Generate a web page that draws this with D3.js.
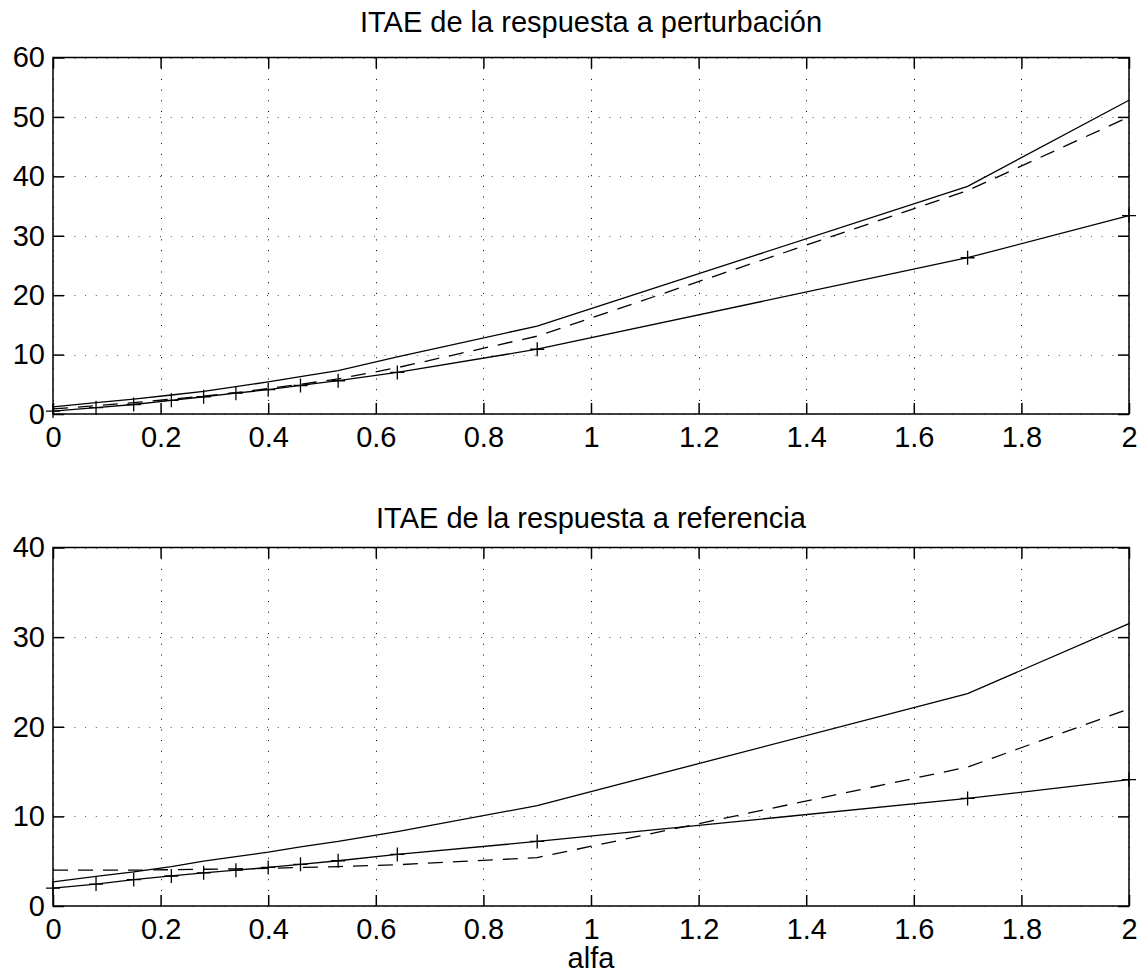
<!DOCTYPE html>
<html>
<head>
<meta charset="utf-8">
<script src="https://cdn.jsdelivr.net/npm/d3@7"></script>
<style>
  html, body { margin: 0; padding: 0; background: #fff; }
  svg { display: block; }
  text { font-family: "Liberation Sans", Arial, Helvetica, sans-serif; fill: #000; }
</style>
</head>
<body>
<svg id="chart" width="1145" height="976"></svg>
<script>
// ---- data ----
const alfa = [0, 0.08, 0.15, 0.22, 0.28, 0.34, 0.40, 0.46, 0.53, 0.64, 0.90, 1.70, 2.00];

const perturbSolid  = [1.2, 1.9, 2.5, 3.2, 3.8, 4.6, 5.4, 6.3, 7.3, 9.6, 14.8, 38.3, 52.8];
const perturbDashed = [0.85, 1.4, 1.9, 2.5, 3.0, 3.6, 4.3, 5.0, 5.9, 7.8, 13.1, 37.6, 50.0];
const perturbPlus   = [0.5, 1.06, 1.6, 2.3, 2.9, 3.5, 4.1, 4.8, 5.6, 7.0, 10.9, 26.3, 33.4];

const referenciaSolid  = [2.7, 3.3, 3.8, 4.4, 5.0, 5.5, 6.0, 6.6, 7.2, 8.3, 11.2, 23.7, 31.5];
const referenciaDashed = [4.0, 4.0, 4.0, 4.05, 4.1, 4.15, 4.2, 4.3, 4.4, 4.6, 5.4, 15.5, 22.0];
const referenciaPlus   = [2.0, 2.45, 2.95, 3.35, 3.7, 4.0, 4.3, 4.65, 5.05, 5.75, 7.2, 12.0, 14.1];

const xTicks = [0, 0.2, 0.4, 0.6, 0.8, 1, 1.2, 1.4, 1.6, 1.8, 2];
const yTicksTop = [0, 10, 20, 30, 40, 50, 60];
const yTicksBottom = [0, 10, 20, 30, 40];

const titleTop = "ITAE de la respuesta a perturbación";
const titleBottom = "ITAE de la respuesta a referencia";
const xLabel = "alfa";

// ---- layout ----
const svg = d3.select("#chart");
const left = 53, right = 1129;
const fontSize = 29;
const tickLen = 11;

const x = d3.scaleLinear().domain([0, 2]).range([left, right]);

function panel(top, bottom, yMax, yTicks, title, titleY, series) {
  const y = d3.scaleLinear().domain([0, yMax]).range([bottom, top]);
  const g = svg.append("g");

  // grid
  const grid = g.append("g").attr("stroke", "#000").attr("stroke-width", 1)
    .attr("stroke-dasharray", "1,9.7").attr("fill", "none");
  xTicks.forEach(t => {
    grid.append("line").attr("x1", Math.round(x(t)) + 0.5).attr("x2", Math.round(x(t)) + 0.5)
      .attr("y1", top).attr("y2", bottom);
  });
  yTicks.forEach(t => {
    grid.append("line").attr("y1", Math.round(y(t)) + 0.5).attr("y2", Math.round(y(t)) + 0.5)
      .attr("x1", left).attr("x2", right).attr("stroke", "#555");
  });

  // axes via d3 (inward ticks)
  const xAxisB = d3.axisBottom(x).tickValues(xTicks).tickSizeInner(-tickLen).tickSizeOuter(0)
    .tickPadding(12).tickFormat(d => d3.format("~g")(d));
  const xAxisT = d3.axisTop(x).tickValues(xTicks).tickSizeInner(-tickLen).tickSizeOuter(0).tickFormat("");
  const yAxisL = d3.axisLeft(y).tickValues(yTicks).tickSizeInner(-tickLen).tickSizeOuter(0)
    .tickPadding(8).tickFormat(d3.format("d"));
  const yAxisR = d3.axisRight(y).tickValues(yTicks).tickSizeInner(-tickLen).tickSizeOuter(0).tickFormat("");

  const ax = [
    g.append("g").attr("transform", `translate(0,${bottom})`).call(xAxisB),
    g.append("g").attr("transform", `translate(0,${top})`).call(xAxisT),
    g.append("g").attr("transform", `translate(${left},0)`).call(yAxisL),
    g.append("g").attr("transform", `translate(${right},0)`).call(yAxisR)
  ];
  ax.forEach(a => {
    a.select(".domain").remove();
    a.selectAll(".tick line").attr("stroke", "#000").attr("stroke-width", 1.5);
    a.selectAll(".tick text").style("font-size", fontSize + "px")
      .style("font-family", '"Liberation Sans", Arial, sans-serif').attr("fill", "#000");
  });

  // box
  g.append("rect").attr("x", left).attr("y", top).attr("width", right - left).attr("height", bottom - top)
    .attr("fill", "none").attr("stroke", "#000").attr("stroke-width", 1.5);

  // title
  g.append("text").attr("x", (left + right) / 2).attr("y", titleY)
    .attr("text-anchor", "middle").style("font-size", fontSize + "px").text(title);

  // lines
  const line = d3.line().x((d, i) => x(alfa[i])).y(d => y(d));
  series.forEach(s => {
    g.append("path").datum(s.values).attr("d", line).attr("fill", "none")
      .attr("stroke", "#000").attr("stroke-width", 1.3)
      .attr("stroke-dasharray", s.dash ? "15,10" : null);
    if (s.plus) {
      const m = 7;
      g.append("g").selectAll("path").data(s.values).join("path")
        .attr("d", (d, i) => {
          const cx = x(alfa[i]), cy = y(d);
          return `M${cx - m},${cy}H${cx + m}M${cx},${cy - m}V${cy + m}`;
        })
        .attr("stroke", "#000").attr("stroke-width", 1.3).attr("fill", "none");
    }
  });
  return y;
}

panel(57.5, 414, 60, yTicksTop, titleTop, 32, [
  { values: perturbSolid },
  { values: perturbDashed, dash: true },
  { values: perturbPlus, plus: true }
]);

panel(547.5, 906, 40, yTicksBottom, titleBottom, 528, [
  { values: referenciaSolid },
  { values: referenciaDashed, dash: true },
  { values: referenciaPlus, plus: true }
]);

svg.append("text").attr("x", (left + right) / 2).attr("y", 968)
  .attr("text-anchor", "middle").style("font-size", fontSize + "px").text(xLabel);
</script>
</body>
</html>
